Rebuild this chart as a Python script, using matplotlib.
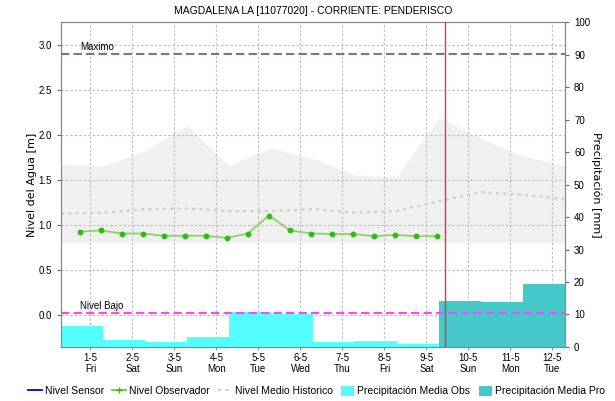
import matplotlib
matplotlib.use("Agg")
import matplotlib.pyplot as plt
from matplotlib.lines import Line2D
from matplotlib.patches import Patch

plt.rcParams['font.family'] = ['Liberation Sans', 'DejaVu Sans']

# dias (tick a las 00:00 de cada dia, x en dias desde 1-5)
dias = ['1-5', '2-5', '3-5', '4-5', '5-5', '6-5', '7-5', '8-5', '9-5', '10-5', '11-5', '12-5']
semana = ['Fri', 'Sat', 'Sun', 'Mon', 'Tue', 'Wed', 'Thu', 'Fri', 'Sat', 'Sun', 'Mon', 'Tue']

# nivel observador (06:00 y 18:00)
obs_t = [-0.25, 0.25, 0.75, 1.25, 1.75, 2.25, 2.75, 3.25, 3.75, 4.25, 4.75, 5.25,
         5.75, 6.25, 6.75, 7.25, 7.75, 8.25]
obs_nivel = [0.92, 0.935, 0.90, 0.90, 0.875, 0.875, 0.875, 0.85, 0.90, 1.10, 0.935, 0.90,
             0.895, 0.895, 0.87, 0.885, 0.87, 0.87]

# historico (07:00 de cada dia)
hist_t = [-0.7, 0.3, 1.3, 2.3, 3.3, 4.3, 5.3, 6.3, 7.3, 8.3, 9.3, 10.3, 11.3]
hist_medio = [1.12, 1.13, 1.17, 1.18, 1.15, 1.15, 1.17, 1.13, 1.15, 1.26, 1.36, 1.33, 1.28]
hist_max = [1.67, 1.65, 1.82, 2.10, 1.65, 1.85, 1.73, 1.55, 1.53, 2.19, 1.96, 1.76, 1.65]
hist_min = [0.80, 0.80, 0.80, 0.80, 0.80, 0.80, 0.80, 0.80, 0.80, 0.80, 0.80, 0.80, 0.80]

# precipitacion diaria (07:00 a 07:00)
prec_obs_t = [-0.7, 0.3, 1.3, 2.3, 3.3, 4.3, 5.3, 6.3, 7.3]
prec_obs = [6.5, 2.2, 1.4, 3.2, 10.9, 10.0, 1.4, 1.8, 0.9]
prec_pro_t = [8.3, 9.3, 10.3]
prec_pro = [14.2, 13.7, 19.4]

nivel_max = 2.9
nivel_bajo = 0.02
ahora = 8.45

fig = plt.figure(figsize=(6.15, 4.01), dpi=100)
pos = [0.0992, 0.1347, 0.8195, 0.8103]
ax = fig.add_axes(pos)
ax2 = ax.twinx()
top = fig.add_axes(pos, sharex=ax, sharey=ax)

ax.set_zorder(0)
ax2.set_zorder(1)
top.set_zorder(2)
ax2.patch.set_visible(False)
top.patch.set_visible(False)
top.axis('off')

# fondo: grilla y banda historica
ax.grid(True, color='#bbbbbb', linestyle=(0, (2, 2)), linewidth=0.8)
ax.fill_between(hist_t, hist_min, hist_max, color='#f0f0f0', linewidth=0, zorder=1)
ax.plot(hist_t, hist_medio, color='#cccccc', linestyle=(0, (1.5, 2)), linewidth=1.5, zorder=2)

# barras de precipitacion
ax2.bar(prec_obs_t, prec_obs, width=1.0, align='edge', color='#55ffff', linewidth=0)
ax2.bar(prec_pro_t, prec_pro, width=1.0, align='edge', color='#44c8c8', linewidth=0)

# lineas encima
top.plot(obs_t, obs_nivel, color='#8fd16a', linewidth=1.3, marker='o', markersize=3.2,
         markerfacecolor='#33bb11', markeredgecolor='#33bb11')
top.axhline(nivel_max, color='#6a77a8', linestyle=(0, (4, 2)), linewidth=1.5)
top.axhline(nivel_bajo, color='#ff44ff', linestyle=(0, (4, 2)), linewidth=1.5)
top.axvline(ahora, color='#ee3333', linewidth=1.0)
top.text(-0.25, nivel_max + 0.02, 'Maximo', fontsize=7, va='bottom')
top.text(-0.25, nivel_bajo + 0.02, 'Nivel Bajo', fontsize=7, va='bottom')

ax.set_xlim(-0.7, 11.3)
ax.set_ylim(-0.361, 3.25)
ax2.set_ylim(0, 100)

ax.set_xticks(range(len(dias)))
ax.set_xticklabels([d + '\n' + s for d, s in zip(dias, semana)], fontsize=7, linespacing=1.15)
ax.set_yticks([0.0, 0.5, 1.0, 1.5, 2.0, 2.5, 3.0])
ax.set_yticklabels(['0.0', '0.5', '1.0', '1.5', '2.0', '2.5', '3.0'], fontsize=7)
ax2.set_yticks(range(0, 101, 10))
ax2.tick_params(axis='y', labelsize=7, length=3, color='#666666')
ax.tick_params(axis='y', length=3, color='#666666')
ax.tick_params(axis='x', length=2, color='#888888', pad=2)

for a in (ax, ax2):
    for s in a.spines.values():
        s.set_color('#888888')
        s.set_linewidth(0.8)

ax.set_ylabel('Nivel del Agua [m]', fontsize=8, family='DejaVu Sans', labelpad=1)
ax2.set_ylabel('Precipitación [mm]', fontsize=8, family='DejaVu Sans', rotation=270,
               labelpad=8)
ax.set_title('MAGDALENA LA [11077020] - CORRIENTE: PENDERISCO', fontsize=7.5, pad=6)

handles = [
    Line2D([], [], color='#0000ee', linewidth=1.3),
    Line2D([], [], color='#66cc33', linewidth=1.3, marker='+', markersize=4,
           markeredgecolor='#33bb11'),
    Line2D([], [], color='#cccccc', linestyle=(0, (1.5, 2)), linewidth=1.5),
    Patch(facecolor='#55ffff', edgecolor='none'),
    Patch(facecolor='#44c8c8', edgecolor='none'),
]
labels = ['Nivel Sensor', 'Nivel Observador', 'Nivel Medio Historico',
          'Precipitación Media Obs', 'Precipitación Media Pro']
fig.legend(handles, labels, loc='center', bbox_to_anchor=(0.515, 0.025), ncol=5,
           frameon=False, fontsize=7.5, handlelength=1.3, handletextpad=0.3,
           columnspacing=0.8, handleheight=1.2)

fig.savefig('out.png', dpi=100)
